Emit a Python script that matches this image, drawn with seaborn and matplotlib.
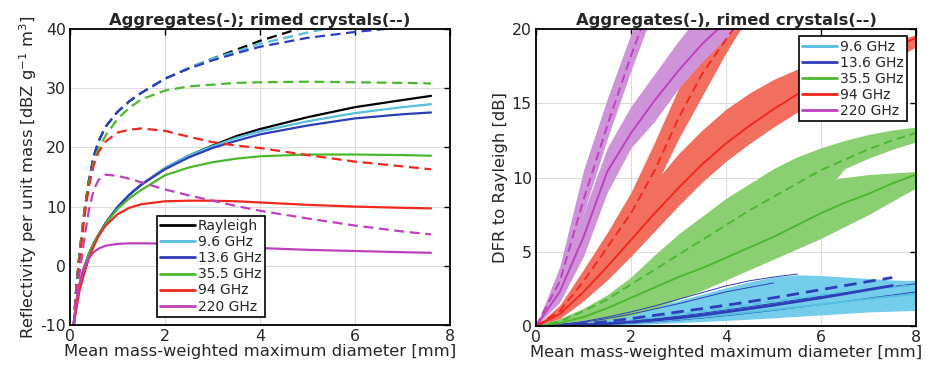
import matplotlib.pyplot as plt
import pandas as pd
import seaborn as sns
from matplotlib.lines import Line2D

# ---- data ----------------------------------------------------------------
# left panel: reflectivity per unit mass [dBZ g-1 m3] vs mean diameter [mm]
d_left = [0.08, 0.12, 0.2, 0.3, 0.4, 0.5, 0.6, 0.75, 1.0, 1.25, 1.5, 2.0,
          2.5, 3.0, 3.5, 4.0, 5.0, 6.0, 7.0, 7.6]

agg_rayleigh = [-10, -7, -3.3, -0.2, 2.0, 3.8, 5.2, 7.2, 9.9, 12.0, 13.7, 16.5,
                18.6, 20.3, 21.9, 23.1, 25.1, 26.8, 28.0, 28.7]
agg_96 = [-10, -7, -3.3, -0.2, 2.0, 3.8, 5.2, 7.2, 9.9, 12.0, 13.7, 16.5,
          18.6, 20.2, 21.6, 22.7, 24.4, 25.8, 26.8, 27.3]
agg_136 = [-10, -7, -3.3, -0.2, 2.0, 3.8, 5.2, 7.2, 9.9, 12.0, 13.7, 16.3,
           18.3, 19.9, 21.1, 22.2, 23.7, 24.9, 25.6, 25.9]
agg_355 = [-10, -7, -3.3, -0.2, 2.0, 3.8, 5.2, 7.1, 9.6, 11.4, 12.8, 15.3,
           16.6, 17.5, 18.1, 18.5, 18.8, 18.8, 18.7, 18.6]
agg_94 = [-10, -8, -4.2, -1.3, 1.3, 3.3, 5.0, 6.8, 8.7, 9.8, 10.4, 10.9,
          11.0, 11.0, 10.9, 10.7, 10.3, 10.0, 9.8, 9.7]
agg_220 = [-10, -6.5, -3.0, -0.3, 1.3, 2.3, 2.9, 3.4, 3.7, 3.8, 3.8, 3.75,
           3.6, 3.4, 3.2, 3.0, 2.7, 2.5, 2.3, 2.2]

rim_rayleigh = [-10, -5, 2, 9, 14.5, 18.5, 21.0, 23.5, 26.0, 27.8, 29.2, 31.6,
                33.4, 35.0, 36.5, 38.0, 40.5, 42.5, 44.0, 45.0]
rim_96 = [-10, -5, 2, 9, 14.5, 18.5, 21.0, 23.5, 26.0, 27.8, 29.2, 31.6,
          33.4, 35.0, 36.2, 37.5, 39.4, 41.0, 42.3, 43.0]
rim_136 = [-10, -5, 2, 9, 14.5, 18.5, 21.0, 23.5, 26.0, 27.8, 29.2, 31.6,
           33.3, 34.7, 35.9, 37.0, 38.5, 39.5, 40.3, 40.7]
rim_355 = [-10, -5, 2, 9, 14.0, 17.5, 19.8, 22.0, 24.8, 26.7, 28.1, 29.6,
           30.3, 30.6, 30.9, 31.0, 31.1, 31.0, 30.9, 30.8]
rim_94 = [-10, -5.5, 1, 8, 13.5, 17.0, 19.2, 21.0, 22.5, 23.0, 23.2, 22.8,
          21.8, 20.9, 20.3, 19.9, 18.7, 17.6, 16.8, 16.3]
rim_220 = [-10, -6.5, -1.5, 4.5, 9.5, 12.8, 14.5, 15.4, 15.2, 14.7, 14.1, 12.9,
           11.9, 11.0, 10.1, 9.3, 8.0, 6.8, 5.8, 5.3]

# right panel: DFR to Rayleigh [dB], centre line and spread band
d_right = [0, 0.5, 1, 1.5, 2, 2.5, 3, 3.5, 4, 4.5, 5, 5.5, 6, 6.5, 7, 7.5, 8]

dfr_96_agg = [0, 0.02, 0.06, 0.13, 0.22, 0.33, 0.46, 0.6, 0.76, 0.93, 1.1, 1.28, 1.46, 1.64, 1.82, 2.0, 2.15]
dfr_96_agg_lo = [0, 0.0, 0.02, 0.05, 0.1, 0.16, 0.23, 0.3, 0.38, 0.46, 0.55, 0.65, 0.75, 0.85, 0.95, 1.0, 1.05]
dfr_96_agg_hi = [0, 0.06, 0.2, 0.42, 0.7, 1.0, 1.35, 1.7, 2.05, 2.4, 2.7, 2.95, 3.1, 3.1, 3.05, 3.0, 3.0]
dfr_96_rim = [0, 0.04, 0.12, 0.24, 0.4, 0.58, 0.78, 0.98, 1.2, 1.42, 1.64, 1.86, 2.08, 2.28, 2.46, 2.62, 2.75]
dfr_96_rim_lo = [0, 0.01, 0.05, 0.1, 0.18, 0.28, 0.4, 0.52, 0.66, 0.8, 0.95, 1.1, 1.25, 1.35, 1.4, 1.45, 1.5]
dfr_96_rim_hi = [0, 0.08, 0.27, 0.55, 0.9, 1.3, 1.72, 2.15, 2.58, 2.98, 3.3, 3.45, 3.4, 3.3, 3.2, 3.1, 3.05]

dfr_136_agg = [0, 0.03, 0.08, 0.16, 0.27, 0.4, 0.55, 0.74, 0.95, 1.17, 1.4, 1.65, 1.9, 2.17, 2.45, 2.72]
dfr_136_agg_lo = [0, 0.01, 0.04, 0.1, 0.18, 0.28, 0.4, 0.54, 0.7, 0.87, 1.05, 1.25, 1.45, 1.65, 1.87, 2.08, 2.3]
dfr_136_agg_hi = [0, 0.08, 0.25, 0.5, 0.8, 1.15, 1.5, 1.9, 2.3, 2.6, 2.9]
dfr_136_rim = [0, 0.05, 0.15, 0.3, 0.5, 0.72, 0.95, 1.17, 1.4, 1.64, 1.9, 2.17, 2.45, 2.72, 3.0, 3.26]
dfr_136_rim_lo = [0, 0.02, 0.08, 0.18, 0.32, 0.48, 0.66, 0.86, 1.08, 1.3, 1.53, 1.77, 2.0, 2.23, 2.45, 2.65, 2.85]
dfr_136_rim_hi = [0, 0.1, 0.3, 0.6, 0.95, 1.35, 1.8, 2.25, 2.7, 3.05, 3.3, 3.5]

dfr_355_agg = [0, 0.2, 0.6, 1.2, 1.9, 2.6, 3.3, 3.9, 4.6, 5.3, 6.0, 6.8, 7.6, 8.3, 8.9, 9.6, 10.2]
dfr_355_agg_lo = [0, 0.05, 0.2, 0.4, 0.7, 1.2, 1.8, 2.4, 3.1, 3.8, 4.5, 5.2, 5.9, 6.7, 7.5, 8.4, 9.3]
dfr_355_agg_hi = [0, 0.3, 0.9, 1.8, 2.8, 3.8, 4.8, 5.8, 6.7, 7.5, 8.3, 9.0, 9.7, 10.0, 10.2, 10.3, 10.4]
dfr_355_rim = [0, 0.3, 1.0, 1.8, 2.8, 3.8, 4.8, 5.8, 6.8, 7.8, 8.7, 9.6, 10.5, 11.2, 11.9, 12.5, 13.0]
dfr_355_rim_lo = [0, 0.2, 0.6, 1.1, 1.8, 2.5, 3.3, 4.1, 5.0, 5.9, 6.9, 7.9, 8.7, 10.6, 11.3, 11.9, 12.4]
dfr_355_rim_hi = [0, 0.5, 1.2, 2.1, 3.3, 4.8, 6.2, 7.4, 8.6, 9.6, 10.6, 11.4, 12.0, 12.5, 12.9, 13.2, 13.4]

dfr_94_agg = [0, 0.8, 2.3, 4.0, 5.8, 7.6, 9.3, 10.9, 12.3, 13.5, 14.6, 15.6, 16.4, 17.2, 18.0, 18.7, 19.4]
dfr_94_agg_lo = [0, 0.5, 1.7, 3.1, 4.7, 6.4, 8.1, 9.7, 11.1, 12.3, 13.4, 14.4, 15.3, 16.2, 17.1, 17.9, 18.8]
dfr_94_agg_hi = [0, 1.3, 3.4, 5.6, 7.7, 9.7, 11.6, 13.2, 14.6, 15.7, 16.6, 17.3, 17.8, 18.3, 18.8, 19.2, 19.6]
dfr_94_rim = [0, 1.0, 3.0, 5.3, 7.6, 10.5, 14.0, 17.0, 19.3, 21.5]
dfr_94_rim_lo = [0, 0.7, 2.3, 4.4, 6.5, 9.3, 12.6, 15.5, 18.4, 21.0]
dfr_94_rim_hi = [0, 1.4, 3.8, 6.3, 9.0, 12.4, 16.0, 19.0, 21.5, 23.5]

dfr_220_agg = [0, 2.3, 6.0, 10.4, 13.0, 15.2, 17.2, 19.0, 20.5, 21.8]
dfr_220_agg_lo = [0, 1.6, 4.7, 9.0, 12.0, 13.8, 16.0, 17.8, 19.4, 20.8]
dfr_220_agg_hi = [0, 3.1, 7.6, 12.0, 14.8, 17.0, 19.2, 21.2, 22.4, 23.4]
dfr_220_rim = [0, 3.0, 8.5, 13.5, 18.2, 22.5]
dfr_220_rim_lo = [0, 2.4, 7.6, 12.6, 17.2, 21.5]
dfr_220_rim_hi = [0, 4.0, 10.5, 15.3, 19.7, 24.0]

freqs = ["Rayleigh", "9.6 GHz", "13.6 GHz", "35.5 GHz", "94 GHz", "220 GHz"]
line_col = {"Rayleigh": "black", "9.6 GHz": "#55BFE0", "13.6 GHz": "#2E3DB8",
            "35.5 GHz": "#4CB830", "94 GHz": "#F0281E", "220 GHz": "#BF40BF"}
fill_col = {"9.6 GHz": "#74CDEB", "13.6 GHz": "#74CDEB", "35.5 GHz": "#8ACF72",
            "94 GHz": "#F26E5E", "220 GHz": "#CF93D9"}

# ---- long tables -------------------------------------------------------------
left_series = {
    ("Rayleigh", "agg"): agg_rayleigh, ("9.6 GHz", "agg"): agg_96,
    ("13.6 GHz", "agg"): agg_136, ("35.5 GHz", "agg"): agg_355,
    ("94 GHz", "agg"): agg_94, ("220 GHz", "agg"): agg_220,
    ("Rayleigh", "rim"): rim_rayleigh, ("9.6 GHz", "rim"): rim_96,
    ("13.6 GHz", "rim"): rim_136, ("35.5 GHz", "rim"): rim_355,
    ("94 GHz", "rim"): rim_94, ("220 GHz", "rim"): rim_220,
}
rows = []
for (f, h), vals in left_series.items():
    for d, v in zip(d_left, vals):
        rows.append({"D": d, "Z": v, "freq": f, "habit": h})
df_left = pd.DataFrame(rows)

right_series = {
    "9.6 GHz": {"agg": (dfr_96_agg, dfr_96_agg_lo, dfr_96_agg_hi),
                "rim": (dfr_96_rim, dfr_96_rim_lo, dfr_96_rim_hi)},
    "13.6 GHz": {"agg": (dfr_136_agg, dfr_136_agg_lo, dfr_136_agg_hi),
                 "rim": (dfr_136_rim, dfr_136_rim_lo, dfr_136_rim_hi)},
    "35.5 GHz": {"agg": (dfr_355_agg, dfr_355_agg_lo, dfr_355_agg_hi),
                 "rim": (dfr_355_rim, dfr_355_rim_lo, dfr_355_rim_hi)},
    "94 GHz": {"agg": (dfr_94_agg, dfr_94_agg_lo, dfr_94_agg_hi),
               "rim": (dfr_94_rim, dfr_94_rim_lo, dfr_94_rim_hi)},
    "220 GHz": {"agg": (dfr_220_agg, dfr_220_agg_lo, dfr_220_agg_hi),
                "rim": (dfr_220_rim, dfr_220_rim_lo, dfr_220_rim_hi)},
}
rows = []
for f, hab in right_series.items():
    for h, (mid, lo, hi) in hab.items():
        for d, v in zip(d_right, mid):
            rows.append({"D": d, "DFR": v, "freq": f, "habit": h})
df_right = pd.DataFrame(rows)

# ---- style -------------------------------------------------------------------
sns.set_theme(style="whitegrid", rc={
    "grid.color": "#DCDCDC", "grid.linewidth": 0.8,
    "axes.edgecolor": "black", "axes.linewidth": 1.3,
    "xtick.direction": "in", "ytick.direction": "in",
    "axes.unicode_minus": False,
})
plt.rcParams["font.family"] = ["DejaVu Sans"]

fig = plt.figure(figsize=(9.28, 3.69), dpi=100)
ax1 = fig.add_axes([0.0754, 0.1192, 0.4095, 0.8022])
ax2 = fig.add_axes([0.5776, 0.1165, 0.4095, 0.8049])

dash_map = {"agg": "", "rim": (4.5, 2.5)}
label_fs = 11.8
tick_fs = 11.3
leg_fs = 10

# left panel
sns.lineplot(data=df_left, x="D", y="Z", hue="freq", style="habit",
             hue_order=freqs, style_order=["agg", "rim"], palette=line_col,
             dashes=dash_map, estimator=None, sort=False, linewidth=1.6,
             legend=False, ax=ax1)
ax1.set_xlim(0, 8)
ax1.set_ylim(-10, 40)
ax1.set_xticks([0, 2, 4, 6, 8])
ax1.set_yticks([-10, 0, 10, 20, 30, 40])
ax1.set_title("Aggregates(-); rimed crystals(--)", fontsize=label_fs,
              fontweight="bold", pad=3)
ax1.set_xlabel("Mean mass-weighted maximum diameter [mm]", fontsize=label_fs,
               labelpad=0)
ax1.set_ylabel("Reflectivity per unit mass [dBZ g$^{-1}$ m$^{3}$]",
               fontsize=label_fs, labelpad=1)
h1 = [Line2D([], [], color=line_col[f], lw=2) for f in freqs]
leg1 = ax1.legend(h1, freqs, loc="lower left", bbox_to_anchor=(0.229, 0.027),
                  borderaxespad=0, fontsize=leg_fs, frameon=True, fancybox=False,
                  edgecolor="black", framealpha=1, handlelength=2.5,
                  labelspacing=0.15, borderpad=0.25, handletextpad=0.2)
leg1.get_frame().set_linewidth(1.2)

# right panel: spread bands first
for f, hab in right_series.items():
    for h, (mid, lo, hi) in hab.items():
        n = min(len(lo), len(hi))
        if f == "13.6 GHz":
            sns.lineplot(x=d_right[:len(lo)], y=lo, color=line_col[f], lw=0.7,
                         estimator=None, ax=ax2)
            sns.lineplot(x=d_right[:len(hi)], y=hi, color=line_col[f], lw=0.7,
                         estimator=None, ax=ax2)
        else:
            ax2.fill_between(d_right[:n], lo[:n], hi[:n], color=fill_col[f],
                             lw=0, zorder=1)

sns.lineplot(data=df_right, x="D", y="DFR", hue="freq", style="habit",
             hue_order=freqs[1:], style_order=["agg", "rim"],
             palette=line_col, dashes=dash_map, estimator=None, sort=False,
             linewidth=1.4, legend=False, ax=ax2)
for ln in ax2.get_lines():
    if ln.get_color() == line_col["13.6 GHz"] and ln.get_linewidth() > 1:
        ln.set_linewidth(2.0)
ax2.set_xlim(0, 8)
ax2.set_ylim(0, 20)
ax2.set_xticks([0, 2, 4, 6, 8])
ax2.set_yticks([0, 5, 10, 15, 20])
ax2.set_title("Aggregates(-), rimed crystals(--)", fontsize=label_fs,
              fontweight="bold", pad=3)
ax2.set_xlabel("Mean mass-weighted maximum diameter [mm]", fontsize=label_fs,
               labelpad=0)
ax2.set_ylabel("DFR to Rayleigh [dB]", fontsize=label_fs, labelpad=3)
h2 = [Line2D([], [], color=line_col[f], lw=2) for f in freqs[1:]]
leg2 = ax2.legend(h2, freqs[1:], loc="upper right", bbox_to_anchor=(0.976, 0.976),
                  borderaxespad=0, fontsize=leg_fs, frameon=True, fancybox=False,
                  edgecolor="black", framealpha=1, handlelength=2.5,
                  labelspacing=0.15, borderpad=0.25, handletextpad=0.2)
leg2.get_frame().set_linewidth(1.2)

for ax in (ax1, ax2):
    ax.set_axisbelow(True)
    ax.tick_params(direction="in", top=True, right=True, length=4, width=1,
                   labelsize=tick_fs, pad=3, color="black")
    for s in ax.spines.values():
        s.set_color("black")
        s.set_linewidth(1.3)

fig.savefig("out.png", dpi=100)
plt.close()
